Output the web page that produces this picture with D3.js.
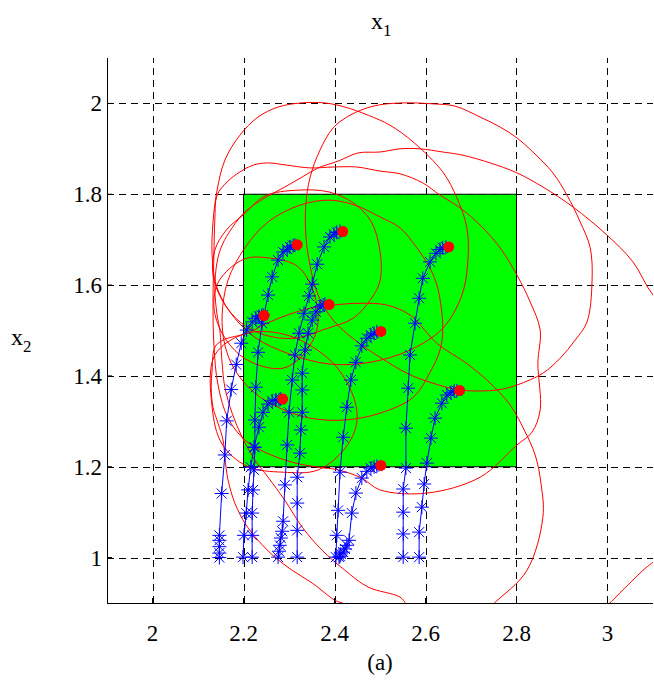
<!DOCTYPE html>
<html><head><meta charset="utf-8">
<script src="https://cdn.jsdelivr.net/npm/d3@7"></script>
<style>
body{margin:0;background:#fff}
svg{display:block}
text{font-family:"Liberation Serif","Times New Roman",serif;fill:#000}
</style>
</head><body>
<svg id="chart" width="654" height="684"></svg>
<script>
// ---------- data ----------
const xTicks = [2, 2.2, 2.4, 2.6, 2.8, 3];
const yTicks = [1, 1.2, 1.4, 1.6, 1.8, 2];
const xDomain = [1.9, 3.1];
const yDomain = [0.9, 2.1];
const targetBox = [2.2, 1.2, 2.8, 1.8]; // x0, y0, x1, y1

// equilibrium points (red dots)
const eqX = [2.318, 2.418, 2.651, 2.245, 2.388, 2.502, 2.286, 2.675, 2.502];
const eqY = [1.689, 1.718, 1.684, 1.533, 1.557, 1.498, 1.349, 1.368, 1.203];

// trajectories (blue, '*' markers)
const trajD = [[2.147,1.000],[2.147,1.010],[2.147,1.024],[2.147,1.038],[2.147,1.049],[2.152,1.141],[2.159,1.226],[2.163,1.301],[2.173,1.370],[2.184,1.425],[2.195,1.472],[2.207,1.501],[2.219,1.519],[2.227,1.527],[2.234,1.531],[2.240,1.533],[2.243,1.534]];
const trajG = [[2.199,1.001],[2.201,1.049],[2.206,1.098],[2.210,1.149],[2.216,1.199],[2.223,1.243],[2.234,1.287],[2.243,1.320],[2.254,1.338],[2.263,1.345],[2.271,1.347],[2.278,1.348],[2.282,1.349]];
const trajA = [[2.219,1.001],[2.219,1.049],[2.219,1.098],[2.221,1.149],[2.223,1.193],[2.225,1.243],[2.225,1.303],[2.227,1.375],[2.232,1.452],[2.241,1.516],[2.254,1.578],[2.263,1.618],[2.276,1.655],[2.287,1.673],[2.296,1.679],[2.302,1.684],[2.309,1.687],[2.313,1.688]];
const trajB = [[2.276,1.001],[2.278,1.014],[2.280,1.027],[2.282,1.043],[2.285,1.058],[2.287,1.080],[2.291,1.160],[2.296,1.248],[2.300,1.320],[2.307,1.391],[2.313,1.446],[2.322,1.494],[2.333,1.538],[2.344,1.576],[2.351,1.602],[2.362,1.646],[2.377,1.684],[2.390,1.706],[2.399,1.712],[2.405,1.716],[2.412,1.718]];
const trajE = [[2.318,1.001],[2.318,1.060],[2.318,1.120],[2.318,1.177],[2.324,1.230],[2.326,1.281],[2.329,1.320],[2.329,1.369],[2.329,1.406],[2.335,1.457],[2.342,1.494],[2.351,1.523],[2.359,1.541],[2.368,1.552],[2.375,1.556],[2.379,1.558]];
const trajF = [[2.403,1.001],[2.405,1.049],[2.408,1.104],[2.412,1.188],[2.419,1.265],[2.427,1.331],[2.436,1.391],[2.447,1.430],[2.460,1.466],[2.471,1.483],[2.480,1.490],[2.487,1.494],[2.493,1.497]];
const trajI = [[2.410,1.001],[2.412,1.003],[2.414,1.008],[2.419,1.012],[2.423,1.019],[2.427,1.027],[2.432,1.038],[2.438,1.098],[2.447,1.142],[2.460,1.175],[2.471,1.190],[2.480,1.197],[2.487,1.200],[2.493,1.201]];
const trajC = [[2.551,1.001],[2.551,1.052],[2.551,1.100],[2.551,1.151],[2.557,1.197],[2.557,1.285],[2.562,1.373],[2.566,1.446],[2.577,1.516],[2.586,1.571],[2.594,1.615],[2.610,1.651],[2.623,1.670],[2.632,1.678],[2.638,1.682],[2.645,1.684]];
const trajH = [[2.586,1.001],[2.586,1.056],[2.592,1.111],[2.597,1.162],[2.603,1.208],[2.612,1.263],[2.621,1.307],[2.636,1.340],[2.647,1.358],[2.656,1.363],[2.663,1.367],[2.669,1.367]];

// estimated region boundaries (red closed curves)
const loopB = [[2.326,2.001],[2.379,2.001],[2.423,1.992],[2.474,1.974],[2.522,1.952],[2.573,1.915],[2.638,1.849],[2.669,1.792],[2.691,1.726],[2.693,1.651],[2.680,1.578],[2.638,1.505],[2.566,1.457],[2.478,1.430],[2.390,1.426],[2.302,1.448],[2.225,1.485],[2.170,1.541],[2.140,1.600],[2.131,1.666],[2.133,1.739],[2.142,1.809],[2.159,1.875],[2.192,1.930],[2.232,1.970],[2.276,1.992]];
const loopC = [[2.544,2.001],[2.617,1.999],[2.665,1.994],[2.720,1.970],[2.764,1.948],[2.801,1.924],[2.836,1.893],[2.880,1.847],[2.911,1.798],[2.940,1.739],[2.962,1.682],[2.966,1.607],[2.955,1.519],[2.929,1.479],[2.896,1.439],[2.858,1.406],[2.801,1.380],[2.757,1.369],[2.676,1.369],[2.610,1.386],[2.559,1.406],[2.500,1.441],[2.445,1.479],[2.397,1.523],[2.364,1.578],[2.346,1.644],[2.337,1.710],[2.337,1.776],[2.346,1.836],[2.368,1.897],[2.397,1.946],[2.434,1.974],[2.485,1.994]];
const loopF = [[2.142,1.798],[2.164,1.827],[2.192,1.849],[2.221,1.864],[2.252,1.869],[2.296,1.864],[2.346,1.858],[2.397,1.860],[2.449,1.860],[2.500,1.851],[2.544,1.845],[2.594,1.825],[2.632,1.798],[2.676,1.770],[2.720,1.732],[2.764,1.682],[2.801,1.622],[2.830,1.563],[2.852,1.501],[2.847,1.428],[2.852,1.325],[2.834,1.276],[2.801,1.248],[2.720,1.177],[2.603,1.142],[2.500,1.149],[2.460,1.175],[2.408,1.193],[2.364,1.199],[2.307,1.210],[2.247,1.232],[2.203,1.259],[2.166,1.307],[2.144,1.380],[2.135,1.468],[2.133,1.567],[2.135,1.666],[2.137,1.743]];
const loopH = [[3.203,1.391],[3.159,1.523],[3.100,1.578],[3.056,1.651],[2.999,1.710],[2.924,1.772],[2.858,1.816],[2.801,1.847],[2.742,1.869],[2.682,1.886],[2.638,1.893],[2.588,1.900],[2.544,1.900],[2.500,1.893],[2.452,1.891],[2.408,1.873],[2.364,1.858],[2.329,1.838],[2.291,1.816],[2.247,1.792],[2.203,1.761],[2.175,1.726],[2.153,1.688],[2.142,1.651],[2.137,1.593],[2.142,1.534],[2.148,1.501],[2.153,1.428],[2.159,1.375],[2.175,1.318],[2.197,1.265],[2.225,1.215],[2.254,1.177],[2.291,1.126],[2.329,1.067],[2.373,1.016],[2.423,0.972],[2.474,0.935],[2.544,0.913],[2.559,0.897],[2.610,0.858],[2.720,0.827],[2.874,0.836],[3.001,0.897],[3.027,0.922],[3.078,0.972],[3.115,1.005],[3.181,1.126],[3.214,1.259]];
const loopI = [[2.515,1.556],[2.566,1.534],[2.627,1.470],[2.687,1.430],[2.737,1.389],[2.786,1.336],[2.816,1.283],[2.841,1.226],[2.854,1.162],[2.858,1.089],[2.823,0.972],[2.748,0.897],[2.698,0.851],[2.588,0.818],[2.478,0.851],[2.423,0.897],[2.401,0.906],[2.351,0.944],[2.307,0.972],[2.269,1.001],[2.232,1.038],[2.203,1.076],[2.181,1.120],[2.166,1.171],[2.159,1.221],[2.155,1.259],[2.144,1.296],[2.133,1.331],[2.129,1.375],[2.131,1.413],[2.137,1.463],[2.155,1.479],[2.208,1.494],[2.252,1.516],[2.296,1.534],[2.346,1.549],[2.397,1.556],[2.456,1.560]];
const loopA = [[2.201,1.756],[2.247,1.796],[2.318,1.809],[2.388,1.805],[2.441,1.781],[2.480,1.741],[2.500,1.675],[2.500,1.609],[2.480,1.569],[2.441,1.527],[2.379,1.503],[2.313,1.483],[2.247,1.490],[2.192,1.519],[2.153,1.567],[2.133,1.622],[2.137,1.677],[2.162,1.721]];
const loopD = [[2.201,1.657],[2.254,1.660],[2.318,1.642],[2.348,1.600],[2.364,1.536],[2.357,1.488],[2.324,1.439],[2.287,1.417],[2.239,1.422],[2.192,1.446],[2.153,1.494],[2.135,1.552],[2.146,1.609]];
const loopG = [[2.208,1.494],[2.302,1.488],[2.395,1.430],[2.441,1.356],[2.449,1.298],[2.425,1.243],[2.364,1.193],[2.287,1.188],[2.208,1.201],[2.153,1.250],[2.131,1.331],[2.137,1.446]];
const loopE = [[2.324,1.776],[2.388,1.787],[2.445,1.776],[2.500,1.750],[2.544,1.726],[2.581,1.682],[2.610,1.637],[2.627,1.593],[2.638,1.505],[2.632,1.457],[2.610,1.408],[2.573,1.353],[2.500,1.318],[2.423,1.303],[2.346,1.307],[2.280,1.329],[2.225,1.362],[2.181,1.413],[2.159,1.468],[2.153,1.534],[2.166,1.611],[2.203,1.682],[2.254,1.739]];

const trajectories = [trajD, trajG, trajA, trajB, trajE, trajF, trajI, trajC, trajH];
const loops = [loopB, loopC, loopF, loopH, loopI, loopA, loopD, loopG, loopE];

// ---------- drawing ----------
const svg = d3.select("#chart");
const L = 107, R = 653, T = 58, B = 603;
const x = d3.scaleLinear().domain(xDomain).range([L, R]);
const y = d3.scaleLinear().domain(yDomain).range([B, T]);

svg.append("defs").append("clipPath").attr("id","plotclip")
  .append("rect").attr("x",L).attr("y",T).attr("width",R-L).attr("height",B-T);

// grid
const grid = svg.append("g").attr("stroke","#000").attr("stroke-width",1).attr("stroke-dasharray","7,5").attr("fill","none");
grid.selectAll("line.vx").data(xTicks).join("line")
  .attr("x1",d=>Math.round(x(d))+0.5).attr("x2",d=>Math.round(x(d))+0.5)
  .attr("y1",B).attr("y2",T);
grid.selectAll("line.hy").data(yTicks).join("line")
  .attr("y1",d=>Math.round(y(d))+0.5).attr("y2",d=>Math.round(y(d))+0.5)
  .attr("x1",L).attr("x2",R);

// target box
svg.append("rect")
  .attr("x",x(targetBox[0])).attr("y",y(targetBox[3]))
  .attr("width",x(targetBox[2])-x(targetBox[0]))
  .attr("height",y(targetBox[1])-y(targetBox[3]))
  .attr("fill","#00ff00").attr("stroke","#000").attr("stroke-width",1);

const plot = svg.append("g").attr("clip-path","url(#plotclip)");

// red curves
const loopLine = d3.line().x(d=>x(d[0])).y(d=>y(d[1])).curve(d3.curveCatmullRomClosed.alpha(0.5));
plot.selectAll("path.loop").data(loops).join("path")
  .attr("d",loopLine).attr("fill","none").attr("stroke","#ff0000").attr("stroke-width",1);

// trajectories
const trajLine = d3.line().x(d=>x(d[0])).y(d=>y(d[1]));
plot.selectAll("path.traj").data(trajectories).join("path")
  .attr("d",trajLine).attr("fill","none").attr("stroke","#0000ff").attr("stroke-width",1);
const star = "M-7,0H7M0,-7V7M-5,-5L5,5M-5,5L5,-5";
trajectories.forEach(tr=>{
  plot.append("g").selectAll("path").data(tr).join("path")
    .attr("transform",d=>`translate(${x(d[0])},${y(d[1])})`)
    .attr("d",star).attr("stroke","#0000ff").attr("stroke-width",1).attr("fill","none");
});

// equilibrium dots
plot.selectAll("circle.eq").data(eqX.map((v,i)=>[v,eqY[i]])).join("circle")
  .attr("cx",d=>x(d[0])).attr("cy",d=>y(d[1])).attr("r",5.5).attr("fill","#ff0000");

// axes lines
svg.append("line").attr("x1",L+0.5).attr("x2",L+0.5).attr("y1",T).attr("y2",B).attr("stroke","#000");
svg.append("line").attr("x1",L).attr("x2",R).attr("y1",B+0.5).attr("y2",B+0.5).attr("stroke","#000");
// inner ticks
svg.selectAll("line.xt").data(xTicks).join("line")
  .attr("x1",d=>x(d)).attr("x2",d=>x(d)).attr("y1",B).attr("y2",B-5).attr("stroke","#000");
svg.selectAll("line.yt").data(yTicks).join("line")
  .attr("y1",d=>y(d)).attr("y2",d=>y(d)).attr("x1",L).attr("x2",L+5).attr("stroke","#000");

// tick labels
const fmt = d=>String(d);
svg.selectAll("text.xl").data(xTicks).join("text")
  .attr("x",d=>x(d)).attr("y",641).attr("text-anchor","middle").attr("font-size",23).text(fmt);
svg.selectAll("text.yl").data(yTicks).join("text")
  .attr("x",102).attr("y",d=>y(d)+8).attr("text-anchor","end").attr("font-size",23).text(fmt);

// labels
const t = svg.append("text").attr("x",371).attr("y",29).attr("font-size",24);
t.append("tspan").text("x");
t.append("tspan").attr("dy",7).attr("font-size",17).text("1");
const yl = svg.append("text").attr("x",11).attr("y",345).attr("font-size",24);
yl.append("tspan").text("x");
yl.append("tspan").attr("dy",7).attr("font-size",17).text("2");
svg.append("text").attr("x",380).attr("y",670).attr("text-anchor","middle").attr("font-size",23).text("(a)");
</script>
</body></html>
